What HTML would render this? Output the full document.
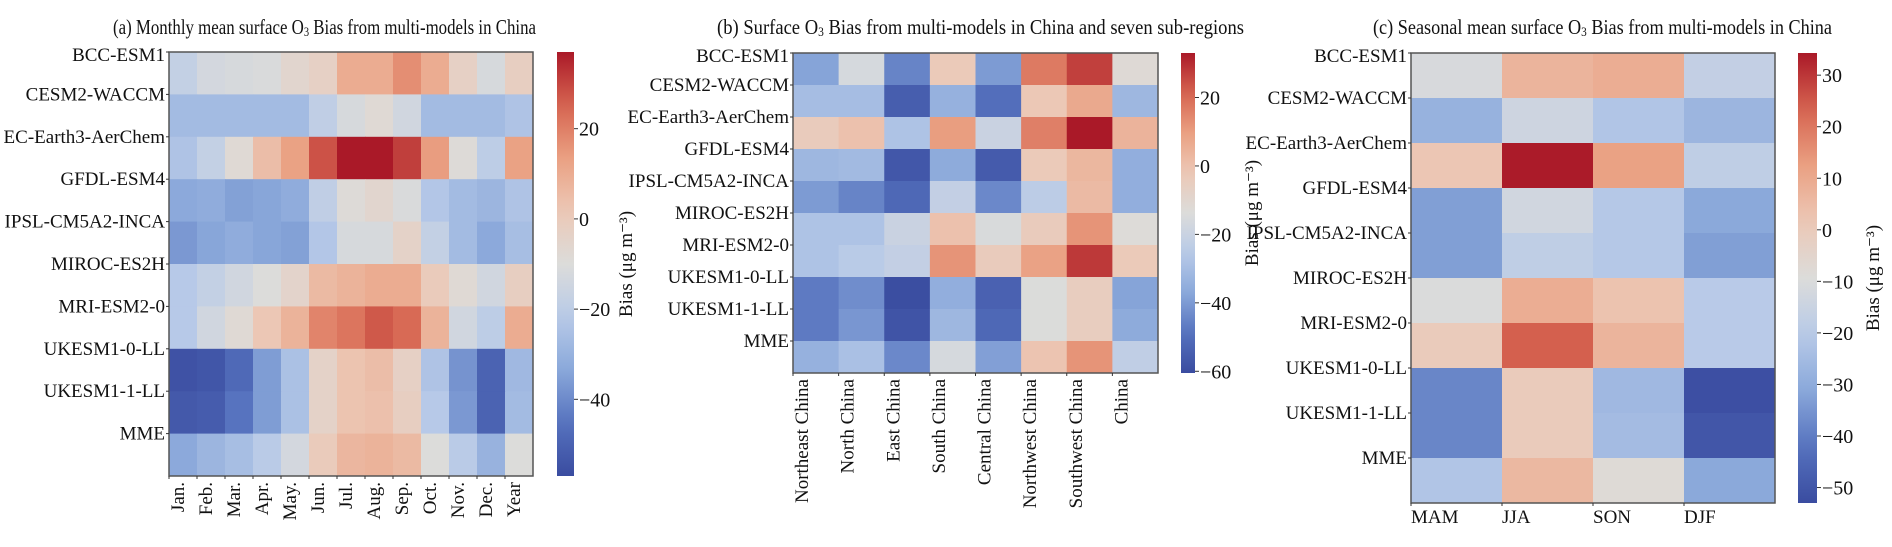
<!DOCTYPE html>
<html><head><meta charset="utf-8"><title>Surface O3 Bias heatmaps</title>
<style>
html,body{margin:0;padding:0;background:#fff;}
svg{display:block;font-family:"Liberation Serif",serif;}
</style></head>
<body>
<svg id="chart" width="1892" height="547" viewBox="0 0 1892 547" xmlns="http://www.w3.org/2000/svg">
<defs id="defs"></defs>
<text x="113" y="34" font-size="21" fill="#111" textLength="423" lengthAdjust="spacingAndGlyphs">(a) Monthly mean surface O<tspan font-size="13" dy="2">3</tspan><tspan dy="-2"> Bias from multi-models in China</tspan></text>
<text x="717" y="34" font-size="21" fill="#111" textLength="527" lengthAdjust="spacingAndGlyphs">(b) Surface O<tspan font-size="13" dy="2">3</tspan><tspan dy="-2"> Bias from multi-models in China and seven sub-regions</tspan></text>
<text x="1373" y="34" font-size="21" fill="#111" textLength="459" lengthAdjust="spacingAndGlyphs">(c) Seasonal mean surface O<tspan font-size="13" dy="2">3</tspan><tspan dy="-2"> Bias from multi-models in China</tspan></text>
</svg>
<script>
// ---- data ----
const models = ["BCC-ESM1","CESM2-WACCM","EC-Earth3-AerChem","GFDL-ESM4","IPSL-CM5A2-INCA","MIROC-ES2H","MRI-ESM2-0","UKESM1-0-LL","UKESM1-1-LL","MME"];
const monthsA = ["Jan.","Feb.","Mar.","Apr.","May.","Jun.","Jul.","Aug.","Sep.","Oct.","Nov.","Dec.","Year"];
const valuesA = [
 [-18,-13,-12,-11,-6,-3,10,10,17,10,-3,-12,-2],
 [-27,-27,-27,-27,-27,-19,-12,-8,-14,-27,-27,-27,-24],
 [-24,-18,-8,5,13,28,37,37,31,14,-9,-20,13],
 [-33,-32,-35,-34,-32,-19,-9,-6,-11,-23,-27,-29,-24],
 [-37,-34,-32,-34,-35,-23,-12,-12,-4,-18,-27,-33,-26],
 [-22,-18,-14,-10,-5,6,8,10,10,0,-8,-14,-2],
 [-22,-14,-8,2,8,19,22,27,24,8,-14,-20,10],
 [-55,-54,-48,-36,-25,-4,3,5,-3,-24,-38,-50,-28],
 [-53,-52,-45,-36,-25,-4,3,4,-2,-22,-37,-50,-27],
 [-33,-29,-26,-21,-13,0,7,8,6,-10,-21,-30,-10]
];
const ticksA = [20,0,-20,-40];
const regionsB = ["Northeast China","North China","East China","South China","Central China","Northwest China","Southwest China","China"];
const valuesB = [
 [-38,-16,-45,-3,-40,17,27,-12],
 [-30,-30,-55,-34,-50,-2,7,-32],
 [-4,0,-28,10,-20,16,33,4],
 [-32,-31,-57,-36,-56,-3,3,-35],
 [-40,-45,-52,-22,-44,-24,2,-35],
 [-28,-28,-20,0,-15,-4,12,-13],
 [-28,-25,-22,12,-4,9,28,-3],
 [-47,-43,-60,-35,-54,-14,-5,-38],
 [-47,-41,-58,-32,-52,-14,-5,-36],
 [-34,-29,-44,-16,-39,-1,12,-23]
];
const ticksB = [20,0,-20,-40,-60];
const seasonsC = ["MAM","JJA","SON","DJF"];
const valuesC = [
 [-11,7,9,-17],
 [-28,-14,-22,-27],
 [2,34,12,-18],
 [-33,-13,-21,-31],
 [-33,-18,-21,-33],
 [-10,9,3,-20],
 [0,24,7,-20],
 [-38,0,-26,-52],
 [-38,0,-25,-50],
 [-22,6,-8,-31]
];
const ticksC = [30,20,10,0,-10,-20,-30,-40,-50];

// ---- colormap (muted coolwarm) ----
const cmStops = [[0,[58,76,160]],[0.125,[86,114,190]],[0.25,[138,168,218]],[0.375,[184,202,232]],[0.5,[220,220,218]],[0.625,[236,200,182]],[0.75,[234,160,130]],[0.875,[214,100,80]],[1,[170,25,40]]];
function cmap(t){
  t=Math.max(0,Math.min(1,t));
  for(let i=1;i<cmStops.length;i++){
    if(t<=cmStops[i][0]){
      const a=cmStops[i-1],b=cmStops[i],f=(t-a[0])/(b[0]-a[0]);
      const c=a[1].map((v,k)=>Math.round(v+(b[1][k]-v)*f));
      return `rgb(${c[0]},${c[1]},${c[2]})`;
    }
  }
  return "rgb(170,25,40)";
}
const NS="http://www.w3.org/2000/svg";
const svg=document.getElementById('chart');
const defs=document.getElementById('defs');
function mk(tag,attrs,parent){const e=document.createElementNS(NS,tag);for(const k in attrs)e.setAttribute(k,attrs[k]);(parent||svg).appendChild(e);return e;}

function panel(p){
  const g=mk('g',{});
  
  
  const nr=p.rows.length,nc=p.cols.length;
  const cw=(p.x1-p.x0)/nc,rh=(p.y1-p.y0)/nr;
  const xs=j=>p.x0+j*cw, ys=i=>p.y0+i*rh;
  const norm=v=>(v-p.vmin)/(p.vmax-p.vmin);
  for(let i=0;i<nr;i++)for(let j=0;j<nc;j++){
    const r=mk('rect',{x:xs(j),y:ys(i),width:cw+0.5,height:rh+0.5,fill:cmap(norm(p.vals[i][j]))},g);
    
    
  }
  const fr=mk('rect',{x:p.x0,y:p.y0,width:p.x1-p.x0,height:p.y1-p.y0,fill:'none',stroke:'#555','stroke-width':1.5},g);
  
  
  for(let i=0;i<nr;i++){
    const y=ys(i);
    mk('line',{x1:p.x0-3,x2:p.x0,y1:y,y2:y,stroke:'#333'},g);
    const t=mk('text',{x:p.x0-4,y:y+6+(i===0?3:0),'font-size':19,'text-anchor':'end',fill:'#111'},g);
    t.textContent=p.rows[i];
    
    
  }
  for(let j=0;j<nc;j++){
    const x=xs(j);
    mk('line',{x1:x,x2:x,y1:p.y1,y2:p.y1+3,stroke:'#333'},g);
    let t;
    if(p.rot){
      const tx=x+15,ty=p.y1+6;
      t=mk('text',{x:tx,y:ty,'font-size':19,'text-anchor':'end',fill:'#111',transform:`rotate(-90 ${tx} ${ty})`},g);
    } else {
      t=mk('text',{x:x,y:p.y1+20,'font-size':19,'text-anchor':'start',fill:'#111'},g);
    }
    t.textContent=p.cols[j];
    
    
  }
  const gid='grad-'+p.id;
  const lg=mk('linearGradient',{id:gid,x1:0,y1:1,x2:0,y2:0},defs);
  for(let k=0;k<=20;k++)mk('stop',{offset:k/20,'stop-color':cmap(k/20)},lg);
  const cb=mk('rect',{x:p.cbx,y:p.y0,width:p.cbw,height:p.cby1-p.y0,fill:`url(#${gid})`},g);
  
  
  const cy=v=>p.cby1-(v-p.vmin)/(p.vmax-p.vmin)*(p.cby1-p.y0);
  p.ticks.forEach(v=>{
    const y=cy(v);
    mk('line',{x1:p.cbx+p.cbw,x2:p.cbx+p.cbw+4,y1:y,y2:y,stroke:'#333'},g);
    const t=mk('text',{x:p.cbx+p.cbw+5,y:y+7,'font-size':20,fill:'#111'},g);
    t.textContent=(v<0?'\u2212'+(-v):String(v));
    
    
  });
  const lx=p.lx, lyc=(p.y0+p.cby1)/2;
  const lt=mk('text',{x:lx,y:lyc,'font-size':19,'text-anchor':'middle',fill:'#111',transform:`rotate(-90 ${lx} ${lyc})`},g);
  lt.textContent='Bias (\u03bcg m\u207b\u00b3)';
  
  
}
panel({id:'a',rows:models,cols:monthsA,vals:valuesA,x0:169,x1:533,y0:52,y1:476,rot:true,vmin:-57,vmax:37,ticks:ticksA,cbx:557,cbw:17,cby1:476,lx:632});
panel({id:'b',rows:models,cols:regionsB,vals:valuesB,x0:793,x1:1158,y0:53,y1:373,rot:true,vmin:-60.5,vmax:33,ticks:ticksB,cbx:1181,cbw:14,cby1:373,lx:1258});
panel({id:'c',rows:models,cols:seasonsC,vals:valuesC,x0:1411,x1:1775,y0:53,y1:503,rot:false,vmin:-53,vmax:34.3,ticks:ticksC,cbx:1798,cbw:19,cby1:503,lx:1879});
</script>
</body></html>
